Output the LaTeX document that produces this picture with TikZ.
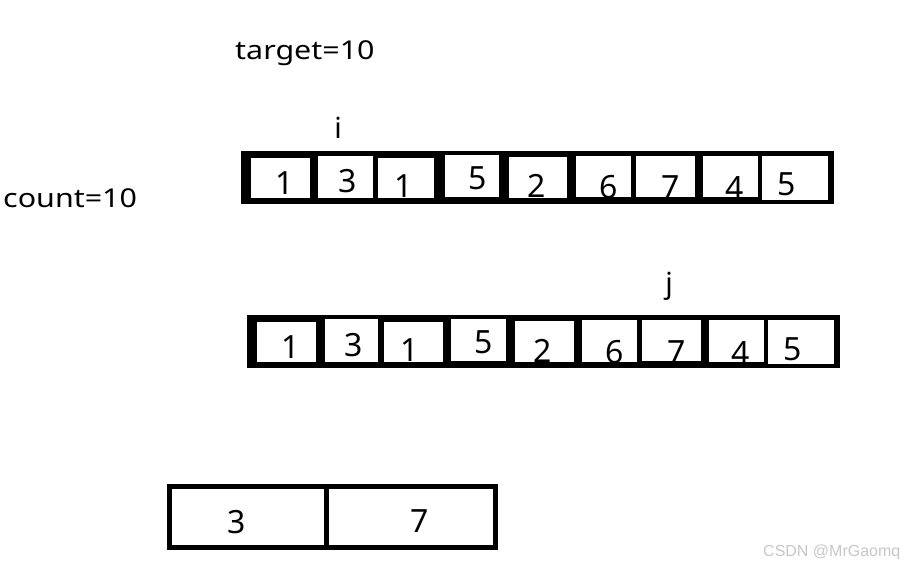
\documentclass[tikz,border=0pt]{standalone}
\usepackage{fontspec}
\setmainfont{Noto Sans}
\newfontfamily\wmfont{Liberation Sans}
\begin{document}
\begin{tikzpicture}[x=1pt,y=-1pt,
  lbl/.style={inner sep=0pt,anchor=base west,font=\fontsize{26}{26}\selectfont},
  ptr/.style={inner sep=0pt,anchor=base,font=\fontsize{29}{29}\selectfont},
  dig/.style={inner sep=0pt,anchor=base,font=\fontsize{32}{32}\selectfont},
  cellw/.style={fill=white},
  frame/.style={fill=black}]
\useasboundingbox (0,0) rectangle (907,566);
\fill[white] (0,0) rectangle (907,566);
% labels
\node[lbl] (target) at (235,59) {\scalebox{1.17}[1]{target=10}};
\node[lbl] (count) at (3,207) {\scalebox{1.17}[1]{count=10}};
\node[ptr] (i) at (338,138) {i};
\node[ptr] (j) at (669,293) {j};
% top array
\fill[frame] (241,151) rectangle (834,204);
\fill[cellw] (251,158) rectangle (310,198);
\fill[cellw] (318,156) rectangle (373,198);
\fill[cellw] (378,158) rectangle (434,198);
\fill[cellw] (445,155) rectangle (499,197);
\fill[cellw] (509,157) rectangle (567,198);
\fill[cellw] (576,156) rectangle (631,197);
\fill[cellw] (636,156) rectangle (695,197);
\fill[cellw] (703,156) rectangle (758,197);
\fill[cellw] (762,156) rectangle (828,200);
\node[dig] (a1) at (285,194) {1};
\node[dig] (a2) at (348,192) {3};
\node[dig] (a3) at (404,197) {1};
\node[dig] (a4) at (478,189) {5};
\node[dig] (a5) at (537,197) {2};
\node[dig] (a6) at (609,198) {6};
\node[dig] (a7) at (671,198) {7};
\node[dig] (a8) at (735,199) {4};
\node[dig] (a9) at (787,195) {5};
% bottom array
\fill[frame] (247,315) rectangle (840,368);
\fill[cellw] (257,322) rectangle (316,362);
\fill[cellw] (325,319) rectangle (378,362);
\fill[cellw] (384,322) rectangle (443,362);
\fill[cellw] (451,319) rectangle (506,361);
\fill[cellw] (515,321) rectangle (574,362);
\fill[cellw] (582,320) rectangle (637,362);
\fill[cellw] (642,320) rectangle (701,361);
\fill[cellw] (709,320) rectangle (764,362);
\fill[cellw] (768,320) rectangle (834,364);
\node[dig] (b1) at (291,358) {1};
\node[dig] (b2) at (354,356) {3};
\node[dig] (b3) at (410,361) {1};
\node[dig] (b4) at (484,353) {5};
\node[dig] (b5) at (543,362) {2};
\node[dig] (b6) at (615,363) {6};
\node[dig] (b7) at (677,363) {7};
\node[dig] (b8) at (741,364) {4};
\node[dig] (b9) at (793,360) {5};
% result box
\draw[line width=5pt] (169.5,486) rectangle (495.5,547.5);
\draw[line width=5pt] (326.5,486) -- (326.5,547.5);
\node[dig] (r1) at (237,533) {3};
\node[dig] (r2) at (420,532) {7};
% watermark
\node[inner sep=0pt,anchor=base west,font=\wmfont\fontsize{16}{16}\selectfont,text=black!22] (wm) at (763,556) {CSDN @MrGaomq};
\end{tikzpicture}
\end{document}
